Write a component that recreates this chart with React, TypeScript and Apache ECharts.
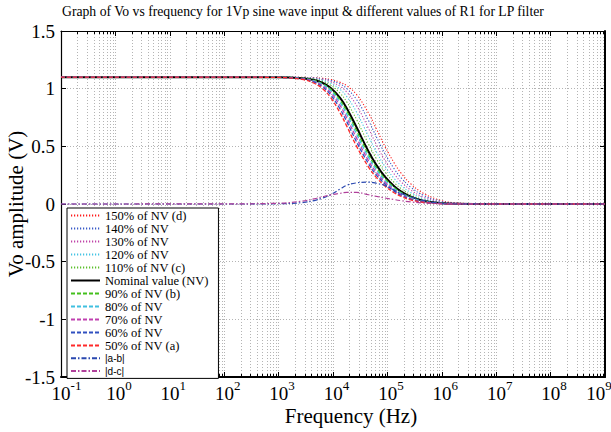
import React, { useEffect, useRef } from "react";
import * as echarts from "echarts";

const TITLE = "Graph of Vo vs frequency for 1Vp sine wave input & different values of R1 for LP filter";
const X_NAME = "Frequency (Hz)";
const Y_NAME = "Vo amplitude (V)";

// sample frequencies (Hz)
const FREQ = [0.1, 100, 900, 2700, 4500, 6300, 9000, 13500, 18000, 27000, 45000, 63000, 90000, 135000, 180000, 270000, 450000, 900000, 1800000, 1e7, 1e9];

const P150 = [1.1, 1.1, 1.1, 1.098, 1.095, 1.09, 1.08, 1.056, 1.025, 0.95, 0.788, 0.649, 0.5, 0.351, 0.266, 0.174, 0.095, 0.035, 0.01, 0.0003, 0];
const P140 = [1.1, 1.1, 1.1, 1.097, 1.093, 1.086, 1.072, 1.04, 1.0, 0.907, 0.723, 0.58, 0.436, 0.301, 0.225, 0.145, 0.077, 0.027, 0.008, 0.0002, 0];
const P130 = [1.1, 1.1, 1.1, 1.097, 1.09, 1.081, 1.062, 1.02, 0.969, 0.856, 0.655, 0.513, 0.379, 0.257, 0.19, 0.12, 0.061, 0.02, 0.006, 0.0001, 0];
const P120 = [1.1, 1.1, 1.099, 1.095, 1.087, 1.074, 1.049, 0.994, 0.93, 0.798, 0.586, 0.45, 0.326, 0.218, 0.159, 0.098, 0.048, 0.015, 0.004, 0.0001, 0];
const P110 = [1.1, 1.1, 1.099, 1.093, 1.082, 1.065, 1.031, 0.961, 0.883, 0.734, 0.519, 0.391, 0.279, 0.183, 0.132, 0.08, 0.038, 0.011, 0.003, 0.0001, 0];
const NV = [1.1, 1.1, 1.099, 1.091, 1.075, 1.052, 1.008, 0.92, 0.829, 0.667, 0.455, 0.337, 0.237, 0.152, 0.108, 0.064, 0.029, 0.008, 0.002, 0, 0];
const P90 = [1.1, 1.1, 1.099, 1.089, 1.071, 1.045, 0.997, 0.901, 0.803, 0.637, 0.429, 0.315, 0.221, 0.142, 0.1, 0.058, 0.026, 0.007, 0.002, 0, 0];
const P80 = [1.1, 1.1, 1.099, 1.088, 1.067, 1.038, 0.984, 0.879, 0.777, 0.608, 0.404, 0.295, 0.205, 0.131, 0.092, 0.052, 0.023, 0.006, 0.002, 0, 0];
const P70 = [1.1, 1.1, 1.098, 1.086, 1.062, 1.028, 0.967, 0.853, 0.744, 0.573, 0.375, 0.272, 0.188, 0.119, 0.082, 0.046, 0.02, 0.006, 0.0015, 0, 0];
const P60 = [1.1, 1.1, 1.098, 1.083, 1.056, 1.017, 0.948, 0.824, 0.712, 0.54, 0.349, 0.251, 0.173, 0.108, 0.074, 0.041, 0.017, 0.005, 0.001, 0, 0];
const P50 = [1.1, 1.1, 1.098, 1.08, 1.047, 1.003, 0.924, 0.79, 0.673, 0.502, 0.32, 0.229, 0.156, 0.096, 0.065, 0.035, 0.015, 0.004, 0.001, 0, 0];
const AB = [0, 0, 0.002, 0.012, 0.03, 0.05, 0.08, 0.13, 0.163, 0.183, 0.19, 0.18, 0.16, 0.118, 0.09, 0.063, 0.032, 0.007, 0.002, 0, 0];
const DC = [0, 0.001, 0.006, 0.025, 0.045, 0.062, 0.079, 0.093, 0.1, 0.1, 0.08, 0.066, 0.052, 0.038, 0.029, 0.018, 0.009, 0.003, 0.001, 0, 0];

const NAMES = [
  "150% of NV (d)", "140% of NV", "130% of NV", "120% of NV", "110% of NV (c)",
  "Nominal value (NV)",
  "90% of NV (b)", "80% of NV", "70% of NV", "60% of NV", "50% of NV (a)",
  "|a-b|", "|d-c|",
];
const VALUES = [P150, P140, P130, P120, P110, NV, P90, P80, P70, P60, P50, AB, DC];
const COLORS = [
  "#ff1a1a", "#3a5bc8", "#c044a8", "#44c4e4", "#5cc02c",
  "#000000",
  "#44c01c", "#40c0e0", "#c040b0", "#3050c0", "#ff2a2a",
  "#2a48b0", "#b0409a",
];
const STYLES = [
  "dot", "dot", "dot", "dot", "dot",
  "solid",
  "dash", "dash", "dash", "dash", "dash",
  "dashdot", "dashdot",
];

const X_MIN = 0.1;
const X_MAX = 1e9;
const Y_MIN = -1.5;
const Y_MAX = 1.5;
const Y_STEP = 0.5;

const SERIF = "'Liberation Serif', 'Times New Roman', Times, serif";
const SANS = "'Liberation Sans', Arial, sans-serif";

function minorTicks(): number[][] {
  const out: number[][] = [];
  for (let e = -1; e < 9; e++) {
    for (let k = 2; k <= 9; k++) out.push([k * Math.pow(10, e), 0]);
  }
  return out;
}

export default function App() {
  const ref = useRef<HTMLDivElement>(null);
  useEffect(() => {
    document.body.style.margin = "0";
    const chart = echarts.init(ref.current!, null, { renderer: "svg" });
    const lineSeries = NAMES.map((name, i) => {
      const st = STYLES[i];
      let type: any = "solid";
      let width = 2;
      if (st === "dot") { type = [1.2, 1.8]; width = 1.1; }
      if (st === "dash") { type = [4, 2]; width = 1.3; }
      if (st === "dashdot") { type = [5, 2, 1.5, 2]; width = 1.2; }
      return {
        name,
        type: "line",
        xAxisIndex: 0,
        yAxisIndex: 0,
        showSymbol: false,
        symbol: "none",
        smooth: 0.4,
        z: 3,
        data: FREQ.map((f, j) => [f, VALUES[i][j]]),
        lineStyle: { color: COLORS[i], width, type },
        itemStyle: { color: COLORS[i] },
      };
    });
    const gridSeries = {
      type: "custom",
      name: "minor-grid",
      xAxisIndex: 0,
      yAxisIndex: 0,
      silent: true,
      z: 1,
      clip: true,
      data: minorTicks(),
      renderItem: (params: any, api: any) => {
        const p = api.coord([api.value(0), 0]);
        const cs = params.coordSys;
        const x = Math.round(p[0]) + 0.5;
        const top = cs.y;
        const bot = cs.y + cs.height;
        return {
          type: "group",
          children: [
            { type: "line", shape: { x1: x, y1: top, x2: x, y2: bot }, style: { stroke: "#b4b4b4", lineWidth: 1, lineDash: [1, 2] } },
            { type: "line", shape: { x1: x, y1: bot, x2: x, y2: bot - 3 }, style: { stroke: "#000", lineWidth: 1 } },
            { type: "line", shape: { x1: x, y1: top, x2: x, y2: top + 3 }, style: { stroke: "#000", lineWidth: 1 } },
          ],
        };
      },
    };
    const option: any = {
      animation: false,
      backgroundColor: "#fff",
      textStyle: { fontFamily: SERIF, color: "#000" },
      title: [
        { text: TITLE, left: 62, top: 4, padding: 0, textStyle: { fontFamily: SERIF, fontSize: 13.7, fontWeight: "normal", color: "#000" } },
      ],
      grid: { left: 61, right: 6, top: 31, bottom: 55, containLabel: false, outerBoundsMode: "none" },
      legend: {
        orient: "vertical",
        left: 67,
        top: 208,
        itemWidth: 29,
        itemHeight: 10,
        itemGap: 0,
        padding: [1, 10, 1, 3],
        backgroundColor: "#fff",
        borderColor: "#000",
        borderWidth: 1,
        borderRadius: 0,
        z: 10,
        data: NAMES,
        itemStyle: { opacity: 0, borderWidth: 0 },
        formatter: (n: string) => (n.startsWith("|") ? `{s|${n}}` : n),
        textStyle: {
          fontFamily: SERIF,
          fontSize: 12.5,
          color: "#000",
          lineHeight: 12.7,
          rich: { s: { fontFamily: SANS, fontSize: 10, lineHeight: 12.7, color: "#000" } },
        },
      },
      xAxis: [
        {
          type: "log",
          logBase: 10,
          min: X_MIN,
          max: X_MAX,
          interval: 1,
          position: "bottom",
          name: X_NAME,
          nameLocation: "middle",
          nameGap: 28,
          nameMoveOverlap: false,
          nameTextStyle: { fontFamily: SERIF, fontSize: 21, lineHeight: 21, color: "#000", padding: [0, 0, 0, 36] },
          axisLine: { onZero: false, lineStyle: { color: "#000", width: 2 } },
          axisTick: { inside: true, length: 5, lineStyle: { color: "#000" } },
          minorTick: { show: false },
          splitLine: { show: true, lineStyle: { color: "#b4b4b4", type: [1, 2], width: 1 } },
          axisLabel: {
            margin: 2,
            align: "center",
            showMaxLabel: true,
            showMinLabel: true,
            fontFamily: SERIF,
            formatter: (v: number) => {
              const e = Math.round(Math.log10(v));
              const tail = e >= 9 ? "{gr|\u00a0}" : "";
              return `{${e < 0 ? "gn" : "gp"}|\u00a0}{b|10}{s|${e}}${tail}`;
            },
            rich: {
              b: { fontFamily: SERIF, fontSize: 19, lineHeight: 24, verticalAlign: "bottom", color: "#000" },
              s: { fontFamily: SERIF, fontSize: 13, lineHeight: 13, verticalAlign: "top", color: "#000" },
              gn: { width: 11, fontSize: 13, fontFamily: SERIF },
              gp: { width: 7, fontSize: 13, fontFamily: SERIF },
              gr: { width: 19, fontSize: 13, fontFamily: SERIF },
            },
          },
        },
        {
          type: "log",
          logBase: 10,
          min: X_MIN,
          max: X_MAX,
          interval: 1,
          position: "top",
          axisLine: { onZero: false, lineStyle: { color: "#000", width: 1.2 } },
          axisTick: { inside: true, length: 5, lineStyle: { color: "#000" } },
          axisLabel: { show: false },
          splitLine: { show: false },
        },
      ],
      yAxis: [
        {
          type: "value",
          min: Y_MIN,
          max: Y_MAX,
          interval: Y_STEP,
          position: "left",
          name: Y_NAME,
          nameLocation: "middle",
          nameGap: 35,
          nameMoveOverlap: false,
          nameTextStyle: { fontFamily: SERIF, fontSize: 21, color: "#000" },
          axisLine: { show: true, onZero: false, lineStyle: { color: "#000", width: 1.2 } },
          axisTick: { show: true, inside: true, length: 5, lineStyle: { color: "#000" } },
          splitLine: { show: true, lineStyle: { color: "#b4b4b4", type: [1, 2], width: 1 } },
          axisLabel: { fontFamily: SERIF, fontSize: 19, color: "#000", margin: 6 },
        },
        {
          type: "value",
          min: Y_MIN,
          max: Y_MAX,
          interval: Y_STEP,
          position: "right",
          axisLine: { show: true, onZero: false, lineStyle: { color: "#000", width: 2 } },
          axisTick: { show: true, inside: true, length: 5, lineStyle: { color: "#000" } },
          splitLine: { show: false },
          axisLabel: { show: false },
        },
      ],
      series: [gridSeries, ...lineSeries],
    };
    chart.setOption(option);
    return () => chart.dispose();
  }, []);
  return <div ref={ref} style={{ position: "absolute", left: 0, top: 0, width: 611, height: 432 }} />;
}
